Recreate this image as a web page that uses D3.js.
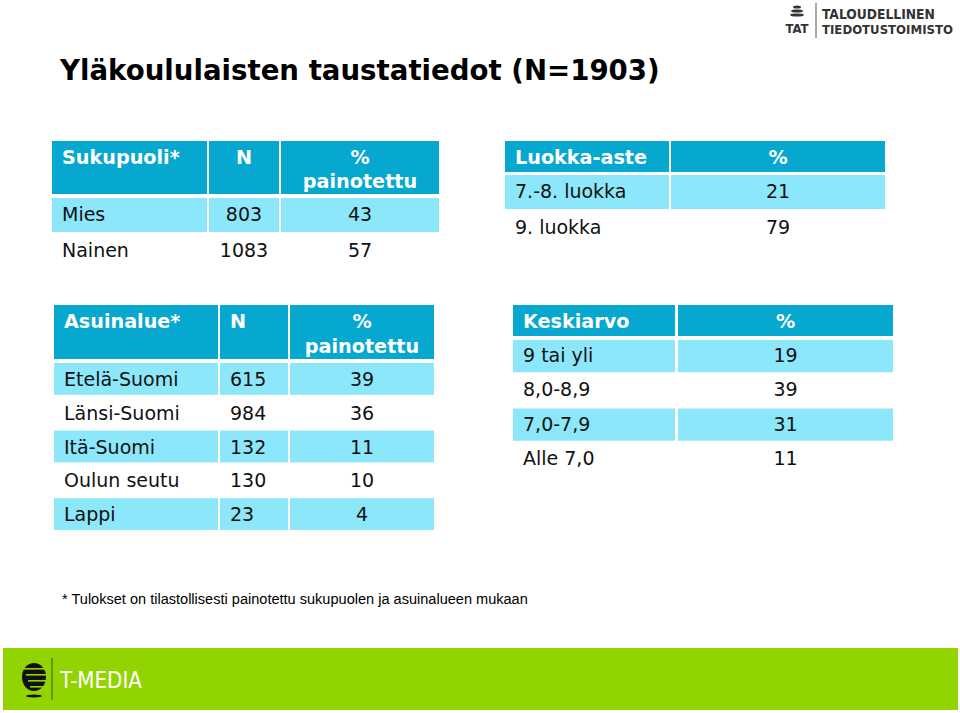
<!DOCTYPE html>
<html><head><meta charset="utf-8">
<script src="https://cdn.jsdelivr.net/npm/d3@7"></script>
<style>body{margin:0;background:#fff}svg{display:block}</style>
</head><body>
<script>
// ---- data ----
const title = "Yläkoululaisten taustatiedot (N=1903)";
const footnote = "* Tulokset on tilastollisesti painotettu sukupuolen ja asuinalueen mukaan";

const genderHeader = ["Sukupuoli*", "N", "% painotettu"];
const genderCats = ["Mies", "Nainen"];
const genderN = [803, 1083];
const genderPct = [43, 57];

const gradeHeader = ["Luokka-aste", "%"];
const gradeCats = ["7.-8. luokka", "9. luokka"];
const gradePct = [21, 79];

const regionHeader = ["Asuinalue*", "N", "% painotettu"];
const regionCats = ["Etelä-Suomi", "Länsi-Suomi", "Itä-Suomi", "Oulun seutu", "Lappi"];
const regionN = [615, 984, 132, 130, 23];
const regionPct = [39, 36, 11, 10, 4];

const avgHeader = ["Keskiarvo", "%"];
const avgCats = ["9 tai yli", "8,0-8,9", "7,0-7,9", "Alle 7,0"];
const avgPct = [19, 39, 31, 11];

// ---- style ----
const HEAD = "#06A8CF", LIGHT = "#8DE7FA", FONT = "DejaVu Sans, Verdana, sans-serif";
const W = 960, H = 713;
const svg = d3.select("body").append("svg").attr("width", W).attr("height", H);

function fitText(sel, w) {
  const n = sel.node(); const l = n.getComputedTextLength();
  if (l > 0) { const fs = parseFloat(sel.attr("font-size")); sel.attr("font-size", fs * w / l); }
}

// title
fitText(svg.append("text").attr("x", 60).attr("y", 80).attr("font-family", FONT)
  .attr("font-weight", "bold").attr("font-size", 26).attr("fill", "#000").text(title), 600);

// generic table
function table(cfg) {
  const g = svg.append("g");
  const y = d3.scaleBand().domain(d3.range(cfg.rows.length)).range([cfg.bodyTop, cfg.bodyBottom]).paddingInner(0);
  const gap = 2;
  cfg.cols.forEach((c) => {
    g.append("rect").attr("x", c[0]).attr("y", cfg.headTop).attr("width", c[1] - c[0])
      .attr("height", cfg.headBottom - cfg.headTop).attr("fill", HEAD);
  });
  cfg.header.forEach((h, i) => {
    const c = cfg.cols[i];
    const al = cfg.headAlign[i];
    const tx = al === "start" ? c[0] + cfg.pad : al === "left2" ? cfg.nX : (c[0] + c[1]) / 2;
    const lines = h === "% painotettu" ? ["%", "painotettu"] : [h];
    lines.forEach((ln, k) => {
      g.append("text").attr("x", tx).attr("y", cfg.headBase + k * cfg.lineH)
        .attr("text-anchor", al === "start" || al === "left2" ? "start" : "middle")
        .attr("font-family", FONT).attr("font-weight", "bold").attr("font-size", cfg.hfs)
        .attr("fill", "#fff").text(ln);
    });
  });
  const rows = g.selectAll("g.row").data(cfg.rows).join("g").attr("class", "row")
    .attr("transform", (d, i) => `translate(0,${y(i)})`);
  rows.each(function (d, i) {
    const r = d3.select(this);
    if (i % 2 === 0) {
      cfg.cols.forEach(c => r.append("rect").attr("x", c[0]).attr("y", gap)
        .attr("width", c[1] - c[0]).attr("height", y.bandwidth() - gap).attr("fill", LIGHT));
    }
    d.forEach((v, j) => {
      const c = cfg.cols[j];
      const al = cfg.bodyAlign[j];
      const tx = al === "start" ? c[0] + cfg.pad : al === "left2" ? cfg.nX : (c[0] + c[1]) / 2;
      r.append("text").attr("x", tx).attr("y", cfg.bodyBase)
        .attr("text-anchor", al === "middle" ? "middle" : "start")
        .attr("font-family", FONT).attr("font-size", cfg.fs).attr("fill", "#111").text(v);
    });
  });
}

const FS = 19, HFS = 19.2;
table({
  header: genderHeader,
  rows: genderCats.map((c, i) => [c, genderN[i], genderPct[i]]),
  cols: [[52, 207], [209, 279], [281, 439]],
  headTop: 141, headBottom: 194, bodyTop: 196, bodyBottom: 268,
  headBase: 164, lineH: 24, bodyBase: 25, pad: 10, fs: FS, hfs: HFS,
  headAlign: ["start", "middle", "middle"], bodyAlign: ["start", "middle", "middle"]
});
table({
  header: gradeHeader,
  rows: gradeCats.map((c, i) => [c, gradePct[i]]),
  cols: [[505, 669], [671, 885]],
  headTop: 141, headBottom: 172, bodyTop: 173, bodyBottom: 245,
  headBase: 164, lineH: 24, bodyBase: 25, pad: 10, fs: FS, hfs: HFS,
  headAlign: ["start", "middle"], bodyAlign: ["start", "middle"]
});
table({
  header: regionHeader,
  rows: regionCats.map((c, i) => [c, regionN[i], regionPct[i]]),
  cols: [[54, 218], [220, 288], [290, 434]],
  headTop: 305, headBottom: 359, bodyTop: 361, bodyBottom: 530,
  headBase: 328, lineH: 25, bodyBase: 25, pad: 10, fs: FS, hfs: HFS, nX: 230,
  headAlign: ["start", "left2", "middle"], bodyAlign: ["start", "left2", "middle"]
});
table({
  header: avgHeader,
  rows: avgCats.map((c, i) => [c, avgPct[i]]),
  cols: [[513, 675], [678, 893]],
  headTop: 305, headBottom: 336, bodyTop: 338, bodyBottom: 475,
  headBase: 328, lineH: 24, bodyBase: 24, pad: 10, fs: FS, hfs: HFS,
  headAlign: ["start", "middle"], bodyAlign: ["start", "middle"]
});

// footnote
fitText(svg.append("text").attr("x", 62).attr("y", 604).attr("font-family", "Liberation Sans, Arial, sans-serif")
  .attr("font-size", 13.5).attr("fill", "#000").text(footnote), 466);

// top-right TAT logo
const lg = svg.append("g");
[[797, 7, 4, 1.6], [797, 11, 6, 1.6], [797, 15, 7, 1.6]].forEach(e =>
  lg.append("ellipse").attr("cx", e[0]).attr("cy", e[1]).attr("rx", e[2]).attr("ry", e[3]).attr("fill", "#333"));
lg.append("text").attr("x", 797).attr("y", 33).attr("text-anchor", "middle").attr("font-family", "DejaVu Sans Condensed, DejaVu Sans")
  .attr("font-weight", "bold").attr("font-size", 13).attr("fill", "#333").text("TAT");
lg.append("line").attr("x1", 816).attr("x2", 816).attr("y1", 3).attr("y2", 38).attr("stroke", "#555").attr("stroke-width", 1);
fitText(lg.append("text").attr("x", 822).attr("y", 19).attr("font-family", "DejaVu Sans Condensed, DejaVu Sans")
  .attr("font-weight", "bold").attr("font-size", 13).attr("fill", "#333").text("TALOUDELLINEN"), 113);
fitText(lg.append("text").attr("x", 822).attr("y", 34).attr("font-family", "DejaVu Sans Condensed, DejaVu Sans")
  .attr("font-weight", "bold").attr("font-size", 13).attr("fill", "#333").text("TIEDOTUSTOIMISTO"), 131);

// bottom green bar
const fb = svg.append("g");
fb.append("rect").attr("x", 3).attr("y", 648).attr("width", 955).attr("height", 62).attr("fill", "#91D400");
fb.append("ellipse").attr("cx", 34).attr("cy", 677).attr("rx", 12).attr("ry", 14).attr("fill", "#111");
[668, 674, 680, 686].forEach((yy, i) =>
  fb.append("rect").attr("x", 24 + i * 2).attr("y", yy).attr("width", 22).attr("height", 1.6).attr("fill", "#91D400"));
fb.append("ellipse").attr("cx", 34).attr("cy", 696).attr("rx", 8).attr("ry", 1.5).attr("fill", "#111");
fb.append("line").attr("x1", 52).attr("x2", 52).attr("y1", 658).attr("y2", 700).attr("stroke", "#3a5a00").attr("stroke-width", 1);
const tm = fb.append("text").attr("x", 60).attr("y", 688).attr("font-family", "DejaVu Sans Condensed, Roboto")
  .attr("font-size", 22).attr("fill", "#fff").text("T-MEDIA");
fitText(tm, 82);
</script>
</body></html>
